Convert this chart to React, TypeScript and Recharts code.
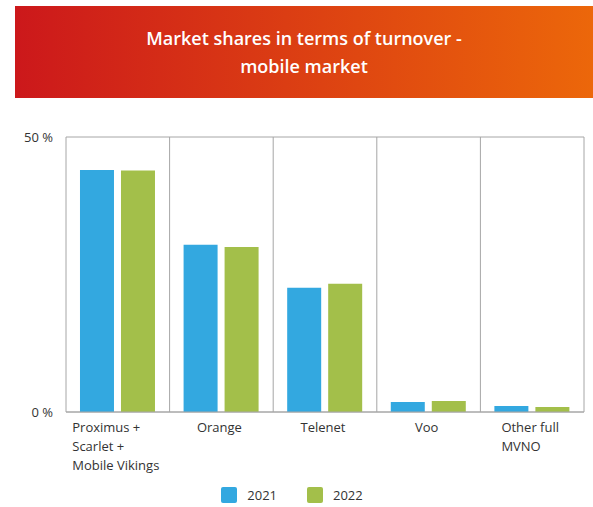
import React from 'react';
import { BarChart, Bar, XAxis, YAxis, CartesianGrid, Legend } from 'recharts';

const categories = ['Proximus + Scarlet + Mobile Vikings', 'Orange', 'Telenet', 'Voo', 'Other full MVNO'];
const categoryLines = [['Proximus +', 'Scarlet +', 'Mobile Vikings'], ['Orange'], ['Telenet'], ['Voo'], ['Other full', 'MVNO']];
const series2021 = [44.0, 30.4, 22.6, 1.8, 1.1];
const series2022 = [43.9, 30.0, 23.3, 2.0, 0.9];
const seriesNames = ['2021', '2022'];
const yTicks = [0, 50];
const titleLines = ['Market shares in terms of turnover -', 'mobile market'];

const data = categories.map((c, i) => ({ name: c, y2021: series2021[i], y2022: series2022[i] }));

const FONT = '"Open Sans", sans-serif';
const BLUE = '#33a8e0';
const GREEN = '#a3bf4a';
const GRID = '#a6a6a6';

const XTick = (props: any) => {
  const { x, y, payload } = props;
  const lines = categoryLines[payload.index] || [String(payload.value)];
  const w = 104;
  return (
    <foreignObject x={x - w / 2 - 2} y={y + 6} width={w} height={64}>
      <div style={{ display: 'flex', justifyContent: 'center', width: w }}>
        <div style={{ textAlign: 'left', fontFamily: FONT, fontSize: 13, lineHeight: '19px', color: '#333', whiteSpace: 'nowrap' }}>
          {lines.map((l: string, i: number) => (
            <div key={i}>{l}</div>
          ))}
        </div>
      </div>
    </foreignObject>
  );
};

const renderLegend = (props: any) => {
  const { payload } = props;
  return (
    <div style={{ height: 30, boxSizing: 'border-box', paddingTop: 10, display: 'flex', justifyContent: 'center', alignItems: 'flex-start', fontFamily: FONT, fontSize: 13, lineHeight: '16px', color: '#333' }}>
      {(payload || []).map((p: any, i: number) => (
        <div key={i} style={{ display: 'flex', alignItems: 'center', marginLeft: i === 0 ? 0 : 30 }}>
          <span style={{ display: 'inline-block', width: 16, height: 16, borderRadius: 2, background: p.color, marginRight: 10 }} />
          <span>{p.value}</span>
        </div>
      ))}
    </div>
  );
};

export default function App() {
  return (
    <div style={{ position: 'absolute', left: 0, top: 0, width: 593, height: 507, background: '#fff' }}>
      <BarChart
        width={593}
        height={507}
        data={data}
        margin={{ top: 137, right: 9, left: 0, bottom: 0 }}
        barCategoryGap="13.5%"
        barGap={7}
      >
        <CartesianGrid
          stroke={GRID}
          strokeWidth={1}
          horizontal={true}
          vertical={true}
          verticalCoordinatesGenerator={(p: any) => {
            const o = p.offset;
            return [0, 1, 2, 3, 4, 5].map((i) => o.left + (o.width * i) / 5);
          }}
        />
        <XAxis
          dataKey="name"
          height={65}
          tickLine={false}
          tickSize={0}
          tickMargin={0}
          axisLine={{ stroke: GRID }}
          tick={<XTick />}
          interval={0}
        />
        <YAxis
          width={66}
          domain={[0, 50]}
          ticks={yTicks}
          axisLine={false}
          tickLine={false}
          tickSize={0}
          tickMargin={13}
          tickFormatter={(v: number) => `${v} %`}
          tick={{ fontFamily: FONT, fontSize: 13, fill: '#333' }}
        />
        <Legend verticalAlign="bottom" align="center" content={renderLegend} />
        <Bar dataKey="y2021" name={seriesNames[0]} fill={BLUE} isAnimationActive={false} />
        <Bar dataKey="y2022" name={seriesNames[1]} fill={GREEN} isAnimationActive={false} />
      </BarChart>
      <div
        style={{
          position: 'absolute',
          left: 15,
          top: 6,
          width: 578,
          height: 92,
          background: 'linear-gradient(to right, #cc181b, #ec670a)',
          color: '#fff',
          fontFamily: FONT,
          fontWeight: 600,
          fontSize: 18,
          lineHeight: '28px',
          display: 'flex',
          flexDirection: 'column',
          justifyContent: 'center',
          alignItems: 'center',
          textAlign: 'center',
        }}
      >
        {titleLines.map((t, i) => (
          <div key={i}>{t}</div>
        ))}
      </div>
    </div>
  );
}
